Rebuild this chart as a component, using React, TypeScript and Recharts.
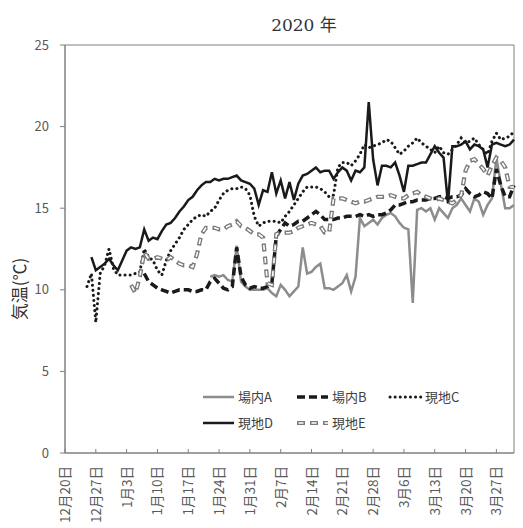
import React from 'react';
import { LineChart, Line, XAxis, YAxis, ReferenceArea, Customized } from 'recharts';

const pad = (n: number): (number | null)[] => Array.from({ length: n }, () => null);

const tickDays = [0, 7, 14, 21, 28, 35, 42, 49, 56, 63, 70, 77, 84, 91, 98];
const tickLabels = [
  '12月20日', '12月27日', '1月3日', '1月10日', '1月17日', '1月24日', '1月31日',
  '2月7日', '2月14日', '2月21日', '2月28日', '3月6日', '3月13日', '3月20日', '3月27日',
];
const yTicks = [0, 5, 10, 15, 20, 25];
const seriesNames = ['場内A', '場内B', '現地C', '現地D', '現地E'];

const valuesA: (number | null)[] = [
  ...pad(33),
  10.8, 10.9, 10.8, 10.9, 10.6, 10.5, 12.7, 10.5, 10.2, 10.0,
  10.0, 10.0, 10.0, 10.1, 9.8, 9.6, 10.3, 10.0, 9.6, 9.9,
  10.2, 12.6, 11.0, 11.1, 11.4, 11.6, 10.1, 10.1, 10.0, 10.2,
  10.4, 10.9, 9.9, 10.8, 14.4, 13.9, 14.1, 14.3, 14.0, 14.4,
  14.6, 14.7, 14.5, 14.1, 13.8, 13.7, 9.2, 14.9, 15.0, 14.8,
  15.0, 14.3, 15.0, 14.7, 14.4, 15.0, 15.2, 15.6, 15.2, 14.8,
  15.6, 15.4, 14.6, 15.2, 15.6, 18.1, 16.5, 15.0, 15.0, 15.2,
];

const valuesB: (number | null)[] = [
  ...pad(18),
  11.0, 10.5, 10.3, 10.1, 10.0, 9.9, 9.8, 9.9, 10.0, 10.0,
  10.0, 9.9, 9.9, 10.0, 10.0, 10.5, 10.7, 10.4, 10.1, 10.0,
  10.2, 12.6, 10.8, 10.3, 10.1, 10.2, 10.1, 10.1, 10.2, 10.4,
  13.3, 13.7, 14.1, 13.9, 14.0, 14.2, 14.2, 14.4, 14.6, 14.8,
  14.6, 14.3, 14.3, 14.3, 14.4, 14.4, 14.5, 14.5, 14.5, 14.6,
  14.5, 14.6, 14.5, 14.6, 14.6, 14.7, 14.9, 15.2, 15.2, 15.3,
  15.4, 15.4, 15.5, 15.5, 15.5, 15.6, 15.6, 15.7, 15.7, 15.6,
  15.7, 15.7, 15.8, 16.2, 15.9, 15.7, 15.8, 16.0, 15.9, 15.6,
  17.4, 16.4, 15.7, 15.7, 16.4,
];

const valuesC: (number | null)[] = [
  ...pad(5),
  10.2, 11.0, 8.0, 11.0, 11.5, 12.5, 11.3, 10.9, 10.9, 10.9,
  10.9, 11.0, 11.1, 12.5, 12.0, 11.8, 11.2, 10.9, 11.8, 12.4,
  12.8, 13.2, 13.7, 14.0, 14.3, 14.5, 14.6, 14.5, 14.8, 15.0,
  15.5, 15.9, 16.1, 16.2, 16.2, 16.3, 16.2, 15.8, 14.5, 13.9,
  14.1, 14.2, 14.2, 14.2, 14.1, 14.5, 14.8, 15.2, 15.6, 16.0,
  16.3, 16.3, 16.3, 16.2, 16.0, 15.7, 15.8, 17.5, 17.8, 17.8,
  17.6, 17.9, 18.3, 18.9, 18.7, 18.8, 18.9, 19.0, 19.2, 19.1,
  18.7, 18.3, 18.5, 18.8, 19.0, 19.3, 19.0, 18.8, 18.6, 18.4,
  18.8, 18.4, 18.3, 18.6, 18.9, 19.3, 19.0, 19.1, 19.3, 18.9,
  18.6, 18.3, 19.1, 19.6, 19.2, 19.3, 19.4, 19.7,
];

const valuesD: (number | null)[] = [
  ...pad(6),
  12.0, 11.2, 11.4, 11.6, 11.9, 11.5, 11.2, 11.8, 12.4,
  12.6, 12.5, 12.6, 13.7, 13.0, 13.2, 13.1, 13.6, 14.0, 14.1,
  14.4, 14.8, 15.1, 15.5, 15.7, 16.1, 16.4, 16.6, 16.6, 16.8,
  16.7, 16.8, 16.8, 16.9, 17.0, 16.7, 16.6, 16.5, 16.2, 15.2,
  16.1, 16.0, 17.2, 15.9, 16.7, 15.6, 16.6, 15.5, 16.5, 17.0,
  17.1, 17.3, 17.5, 17.2, 17.3, 17.3, 16.8, 17.2, 17.5, 17.3,
  16.7, 17.3, 17.2, 17.5, 21.5, 18.0, 16.4, 17.6, 17.6, 17.5,
  17.8, 17.0, 16.0, 17.6, 17.6, 17.7, 17.8, 17.8, 18.3, 18.8,
  18.4, 18.1, 15.3, 18.8, 18.8, 18.9, 19.1, 18.6, 18.9, 18.8,
  18.6, 17.5, 18.9, 19.0, 18.9, 18.8, 18.9, 19.2,
];

const valuesE: (number | null)[] = [
  ...pad(15),
  10.3, 9.8, 10.8, 12.3, 11.9, 11.9, 12.0, 11.9, 11.8, 12.0,
  11.8, 11.6, 11.5, 11.5, 11.4, 12.2, 13.4, 13.8, 13.8, 13.8,
  13.7, 13.7, 13.9, 14.0, 14.2, 13.9, 13.8, 13.6, 13.4, 13.4,
  13.2, 10.4, 10.3, 13.4, 13.5, 13.5, 13.5, 13.6, 13.8, 13.9,
  14.0, 14.1, 14.0, 13.9, 13.5, 13.5, 15.6, 15.6, 15.6, 15.5,
  15.4, 15.3, 15.4, 15.4, 15.5, 15.6, 15.7, 15.7, 15.7, 15.8,
  15.7, 15.6, 15.6, 15.8, 15.9, 16.0, 15.8, 15.7, 15.6, 15.5,
  15.6, 15.5, 15.4, 15.3, 15.5, 15.8, 17.3, 17.9, 18.0, 17.7,
  17.4, 17.0, 17.6, 18.1, 17.9, 17.5, 16.3, 16.3,
];

const data = valuesC.map((_, i) => ({
  day: i,
  A: valuesA[i] ?? null,
  B: valuesB[i] ?? null,
  C: valuesC[i] ?? null,
  D: valuesD[i] ?? null,
  E: valuesE[i] ?? null,
  E2: valuesE[i] ?? null,
}));

const AXIS = '#808080';
const TXT = '#595959';
const SANS = '"Noto Sans CJK JP", "Noto Sans", sans-serif';

const XTick = (props: any) => {
  const { x, y, payload } = props;
  const idx = tickDays.indexOf(payload.value);
  const label = idx >= 0 ? tickLabels[idx] : '';
  return (
    <g>
      <line x1={x} x2={x} y1={y} y2={y - 4} stroke={AXIS} strokeWidth={1} />
      <text
        transform={`translate(${x + 5},${y + 13}) rotate(-90)`}
        textAnchor="end"
        fontSize={13.5}
        fontFamily={SANS}
        fill={TXT}
      >
        {label}
      </text>
    </g>
  );
};

const Extras = () => {
  const items = [
    { name: seriesNames[0], x: 203, y: 397, kind: 'A' },
    { name: seriesNames[1], x: 297, y: 397, kind: 'B' },
    { name: seriesNames[2], x: 390, y: 397, kind: 'C' },
    { name: seriesNames[3], x: 203, y: 423, kind: 'D' },
    { name: seriesNames[4], x: 297, y: 423, kind: 'E' },
  ];
  const sample = (kind: string, x: number, y: number) => {
    const x2 = x + 31;
    switch (kind) {
      case 'A':
        return <line x1={x} x2={x2} y1={y} y2={y} stroke="#8c8c8c" strokeWidth={2.5} />;
      case 'B':
        return <line x1={x} x2={x2} y1={y} y2={y} stroke="#1a1a1a" strokeWidth={3.5} strokeDasharray="8 4" />;
      case 'C':
        return <line x1={x} x2={x2} y1={y} y2={y} stroke="#1a1a1a" strokeWidth={3} strokeDasharray="0.1 5" strokeLinecap="round" />;
      case 'D':
        return <line x1={x} x2={x2} y1={y} y2={y} stroke="#1a1a1a" strokeWidth={2.5} />;
      default:
        return (
          <g>
            <line x1={x} x2={x2} y1={y} y2={y} stroke="#7a7a7a" strokeWidth={4.2} strokeDasharray="8 5" />
            <line x1={x} x2={x2} y1={y} y2={y} stroke="#fff" strokeWidth={1.6} strokeDasharray="5 8" strokeDashoffset={-1.5} />
          </g>
        );
    }
  };
  return (
    <g>
      <text x={304} y={31} textAnchor="middle" fontSize={17} fontFamily='"DejaVu Serif", "Liberation Serif", "Noto Sans CJK JP", serif' fill="#333">
        2020 年
      </text>
      <text transform="translate(26,289) rotate(-90)" textAnchor="middle" fontSize={17} fontFamily={SANS} fill="#333">
        気温(℃)
      </text>
      {items.map((it) => (
        <g key={it.name}>
          {sample(it.kind, it.x, it.y)}
          <text x={it.x + 35} y={it.y + 5} fontSize={13} fontFamily={SANS} fill="#404040">
            {it.name}
          </text>
        </g>
      ))}
    </g>
  );
};

export default function App() {
  return (
    <div style={{ position: 'absolute', left: 0, top: 0, width: 523, height: 528, background: '#fff' }}>
      <LineChart width={523} height={528} data={data} margin={{ top: 45, right: 9, bottom: 0, left: 0 }}>
        <XAxis
          dataKey="day"
          type="number"
          domain={[0, 102]}
          ticks={tickDays}
          interval={0}
          height={75}
          axisLine={{ stroke: AXIS }}
          tickLine={false}
          tickSize={0}
          tickMargin={0}
          tick={<XTick />}
        />
        <YAxis
          type="number"
          domain={[0, 25]}
          ticks={yTicks}
          width={65}
          axisLine={{ stroke: AXIS }}
          tickLine={{ stroke: AXIS }}
          tickSize={5}
          tickMargin={11}
          tick={{ fontSize: 13, fill: TXT, fontFamily: SANS }}
        />
        <ReferenceArea x1={0} x2={102} y1={0} y2={25} fill="none" stroke={AXIS} strokeWidth={1} />
        <Line dataKey="A" stroke="#8c8c8c" strokeWidth={2.5} dot={false} activeDot={false} isAnimationActive={false} />
        <Line dataKey="B" stroke="#1a1a1a" strokeWidth={3.5} strokeDasharray="8 4" dot={false} activeDot={false} isAnimationActive={false} />
        <Line dataKey="C" stroke="#1a1a1a" strokeWidth={3} strokeDasharray="0.1 5" strokeLinecap="round" dot={false} activeDot={false} isAnimationActive={false} />
        <Line dataKey="D" stroke="#1a1a1a" strokeWidth={2.5} dot={false} activeDot={false} isAnimationActive={false} />
        <Line dataKey="E" stroke="#7a7a7a" strokeWidth={4.2} strokeDasharray="8 5" dot={false} activeDot={false} isAnimationActive={false} />
        <Line dataKey="E2" stroke="#ffffff" strokeWidth={1.6} strokeDasharray="5 8" strokeDashoffset={-1.5} dot={false} activeDot={false} isAnimationActive={false} legendType="none" />
        <Customized component={Extras} />
      </LineChart>
    </div>
  );
}
